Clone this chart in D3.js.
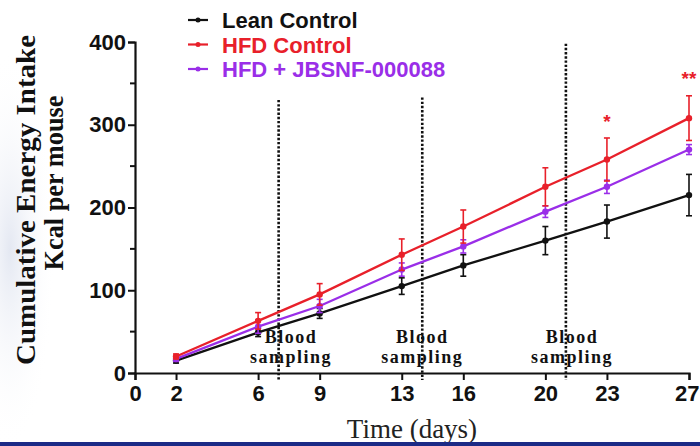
<!DOCTYPE html>
<html>
<head>
<meta charset="utf-8">
<script src="https://cdn.jsdelivr.net/npm/d3@7"></script>
<style>
  body { margin: 0; background: #fff; }
  svg { display: block; }
  .tick-label { font-family: "Liberation Sans", Arial, sans-serif; font-weight: bold; font-size: 22px; fill: #111; }
  .serif { font-family: "Liberation Serif", "Times New Roman", serif; }
</style>
</head>
<body>
<div id="chart"></div>
<script>
const w = 700;
const h = 446;

// Données
const days = [2, 6, 9, 13, 16, 20, 23, 27];
const seriesNames = ["Lean Control", "HFD Control", "HFD + JBSNF-000088"];
const seriesColors = ["#111111", "#e8202a", "#9a2ee8"];
const leanMean = [15, 49, 72, 105, 130, 160, 183, 215];
const leanErr = [3, 5, 6, 10, 13, 17, 20, 25];
const hfdMean = [20, 63, 95, 143, 177, 225, 258, 308];
const hfdErr = [3, 10, 13, 19, 20, 23, 26, 27];
const jbsMean = [17, 56, 81, 125, 153, 195, 225, 270];
const jbsErr = [3, 8, 8, 8, 8, 7, 8, 6];
const xTicks = [0, 2, 6, 9, 13, 16, 20, 23, 27];
const yTicks = [0, 100, 200, 300, 400];
const yMinorTicks = [50, 150, 250, 350];
const samplingDays = [7, 14, 21];
const samplingTop = [330, 333, 398];   // haut des lignes pointillées (en kcal)
const samplingLabelX = [7.6, 14, 21.3];
const stars = [{ day: 23, text: "*", value: 296 }, { day: 27, text: "**", value: 348 }];

const svg = d3.select("#chart").append("svg")
  .attr("width", w)
  .attr("height", h);

// léger filigrane à gauche
const grad = svg.append("defs").append("radialGradient").attr("id", "wm");
grad.append("stop").attr("offset", "0%").attr("stop-color", "#e4e8f2");
grad.append("stop").attr("offset", "100%").attr("stop-color", "#ffffff").attr("stop-opacity", 0);
svg.append("ellipse").attr("cx", 10).attr("cy", 250).attr("rx", 45).attr("ry", 200).attr("fill", "url(#wm)");

const x = d3.scaleLinear().domain([0, 27]).range([135, 689]);
const y = d3.scaleLinear().domain([0, 400]).range([373, 42]);

// Axe Y
const yAxis = svg.append("g")
  .attr("transform", `translate(${x(0)},0)`)
  .call(d3.axisLeft(y).tickValues(yTicks).tickSize(7).tickPadding(2));
yAxis.append("g").selectAll("line").data(yMinorTicks).join("line")
  .attr("x1", -5).attr("x2", 0)
  .attr("y1", d => y(d)).attr("y2", d => y(d))
  .attr("stroke", "#111").attr("stroke-width", 2);

// Axe X
const xAxis = svg.append("g")
  .attr("transform", `translate(0,${y(0)})`)
  .call(d3.axisBottom(x).tickValues(xTicks).tickSize(7).tickPadding(4));

[yAxis, xAxis].forEach(g => {
  g.attr("font-size", null).attr("font-family", null);
  g.select(".domain").attr("stroke", "#111").attr("stroke-width", 2.2);
  g.selectAll(".tick line").attr("stroke", "#111").attr("stroke-width", 2);
  g.selectAll(".tick text").attr("class", "tick-label");
});
xAxis.selectAll(".tick text").attr("dy", "0.78em");
// le "27" touche le bord droit : on le garde entier
xAxis.selectAll(".tick text").filter(d => d === 27).attr("text-anchor", "end").attr("x", 10);

// Lignes de prélèvement sanguin
svg.append("g").selectAll("line").data(samplingDays).join("line")
  .attr("x1", d => x(d)).attr("x2", d => x(d))
  .attr("y1", (d, i) => y(samplingTop[i])).attr("y2", y(0) + 7)
  .attr("stroke", "#111").attr("stroke-width", 2.6)
  .attr("stroke-dasharray", "2.4,1.8");

const labels = svg.append("g").attr("class", "serif")
  .attr("font-weight", "bold").attr("font-size", 18).attr("fill", "#111")
  .attr("letter-spacing", "1.5px").attr("text-anchor", "middle");
samplingLabelX.forEach(d => {
  labels.append("text").attr("x", x(d)).attr("y", 343).text("Blood");
  labels.append("text").attr("x", x(d)).attr("y", 363).text("sampling");
});

// Séries
const series = [
  { name: seriesNames[0], color: seriesColors[0], mean: leanMean, err: leanErr },
  { name: seriesNames[2], color: seriesColors[2], mean: jbsMean, err: jbsErr },
  { name: seriesNames[1], color: seriesColors[1], mean: hfdMean, err: hfdErr }
];

const line = d3.line().x(d => x(d[0])).y(d => y(d[1]));

series.forEach(s => {
  const pts = days.map((d, i) => [d, s.mean[i], s.err[i]]);
  const g = svg.append("g");
  const eb = g.selectAll(".eb").data(pts).join("g");
  eb.append("line")
    .attr("x1", d => x(d[0])).attr("x2", d => x(d[0]))
    .attr("y1", d => y(d[1] - d[2])).attr("y2", d => y(d[1] + d[2]))
    .attr("stroke", s.color).attr("stroke-width", 1.6);
  [-1, 1].forEach(sign => {
    eb.append("line")
      .attr("x1", d => x(d[0]) - 3).attr("x2", d => x(d[0]) + 3)
      .attr("y1", d => y(d[1] + sign * d[2])).attr("y2", d => y(d[1] + sign * d[2]))
      .attr("stroke", s.color).attr("stroke-width", 1.6);
  });
  g.append("path").datum(pts)
    .attr("d", line)
    .attr("fill", "none").attr("stroke", s.color).attr("stroke-width", 2.3);
  g.selectAll("circle").data(pts).join("circle")
    .attr("cx", d => x(d[0])).attr("cy", d => y(d[1]))
    .attr("r", 3.2).attr("fill", s.color);
});

// Astérisques
svg.append("g").selectAll("text").data(stars).join("text")
  .attr("x", d => x(d.day)).attr("y", d => y(d.value))
  .attr("text-anchor", "middle")
  .attr("font-family", "Liberation Sans, Arial, sans-serif")
  .attr("font-weight", "bold").attr("font-size", 19)
  .attr("fill", "#e8202a").text(d => d.text);

// Légende
const legend = svg.append("g");
seriesNames.forEach((name, i) => {
  const ly = 20 + i * 24.5;
  legend.append("line").attr("x1", 188).attr("x2", 208).attr("y1", ly).attr("y2", ly)
    .attr("stroke", seriesColors[i]).attr("stroke-width", 2.2);
  legend.append("circle").attr("cx", 198).attr("cy", ly).attr("r", 2.5).attr("fill", seriesColors[i]);
  legend.append("text").attr("x", 222).attr("y", ly + 8)
    .attr("font-family", "Liberation Sans, Arial, sans-serif")
    .attr("font-weight", "bold").attr("font-size", 22)
    .attr("fill", seriesColors[i]).text(name);
});

// Titres des axes
svg.append("text").attr("class", "serif")
  .attr("transform", "translate(35,200) rotate(-90)")
  .attr("text-anchor", "middle").attr("font-weight", "bold").attr("font-size", 27)
  .attr("textLength", 330).attr("lengthAdjust", "spacingAndGlyphs")
  .attr("fill", "#111").text("Cumulative Energy Intake");
svg.append("text").attr("class", "serif")
  .attr("transform", "translate(63,183) rotate(-90)")
  .attr("text-anchor", "middle").attr("font-weight", "bold").attr("font-size", 27)
  .attr("textLength", 175).attr("lengthAdjust", "spacingAndGlyphs")
  .attr("fill", "#111").text("Kcal per mouse");
svg.append("text").attr("class", "serif")
  .attr("x", 412).attr("y", 438)
  .attr("text-anchor", "middle").attr("font-size", 27)
  .attr("fill", "#222").text("Time (days)");

// bordure bleue en bas
svg.append("rect").attr("x", 0).attr("y", 442).attr("width", w).attr("height", 4).attr("fill", "#1c2a86");
</script>
</body>
</html>
